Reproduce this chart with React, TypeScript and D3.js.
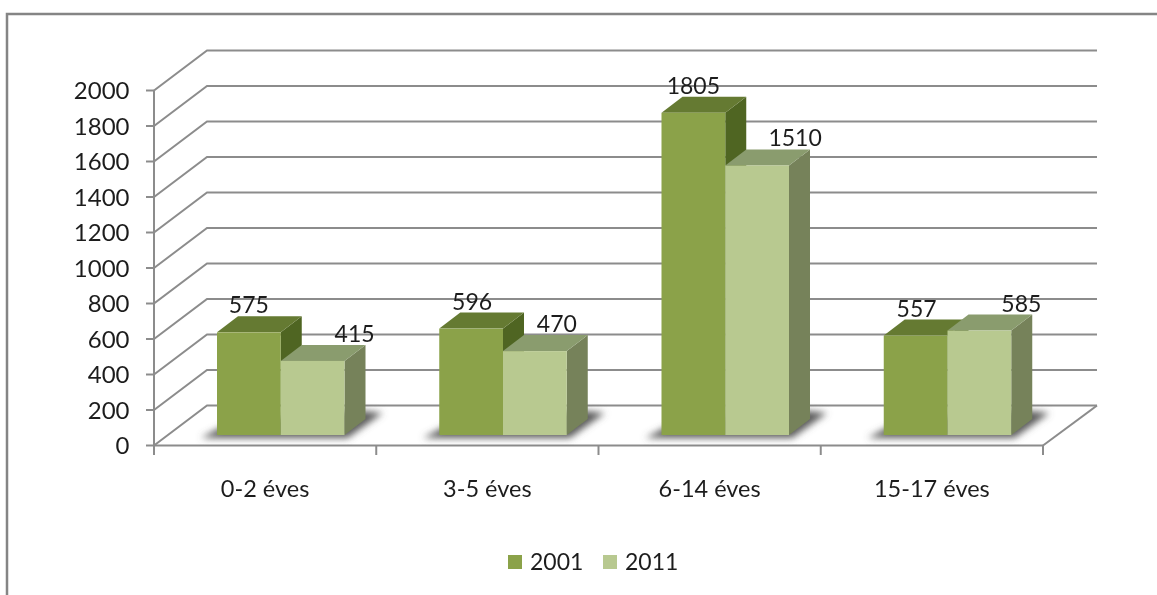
import React from 'react';
import * as d3 from 'd3';

const categories = ['0-2 éves', '3-5 éves', '6-14 éves', '15-17 éves'];
const seriesNames = ['2001', '2011'];
const values2001 = [575, 596, 1805, 557];
const values2011 = [415, 470, 1510, 585];
const yTicks = [0, 200, 400, 600, 800, 1000, 1200, 1400, 1600, 1800, 2000];

// the labels do not sit centred on the bars in the original
const labelShift2001 = [0, 1, 0, 1];
const labelShift2011 = [42, 22, 38, 42];

const frontColors = ['#8ba249', '#b8c990'];
const topColors = ['#657a32', '#8a9c6e'];
const sideColors = ['#4f6524', '#76825a'];
const gridColor = '#8c8c8c';
const textColor = '#1e1e1e';
const font = 'Lato, "Noto Sans", sans-serif';

const App = () => {
	const x = d3.scaleBand<string>().domain(categories).range([154, 1043]);
	const y = d3.scaleLinear().domain([0, 2000]).range([445.5, 90.5]);
	// bars stand further back on the floor than the axis
	const yBar = d3.scaleLinear().domain([0, 2000]).range([435, 78]);
	const inner = d3
		.scaleBand<string>()
		.domain(seriesNames)
		.range([63, 190.5]);

	// depth of the chart floor and of one bar
	const floorDx = 53;
	const floorDy = -40;
	const barDx = 21;
	const barDy = -16;

	const all = [values2001, values2011];
	const shifts = [labelShift2001, labelShift2011];
	const poly = (p: number[][]) => p.map((d) => d.join(',')).join(' ');

	return (
		<svg
			width={1157}
			height={595}
			style={{ position: 'absolute', left: 0, top: 0, background: '#fff' }}
		>
			<defs>
				<filter id="blur" x="-30%" y="-150%" width="160%" height="400%">
					<feGaussianBlur stdDeviation="3.5" />
				</filter>
				<filter id="soft" x="-5%" y="-5%" width="110%" height="110%">
					<feGaussianBlur stdDeviation="0.5" />
				</filter>
			</defs>

			<path d="M7,595V14H1157" fill="none" stroke="#858585" strokeWidth={2.5} />

			<g filter="url(#soft)">
				{/* gridlines on the side and back walls */}
				{yTicks.map((t) => (
					<path
						key={t}
						d={`M154,${y(t)}L${154 + floorDx},${y(t) + floorDy}H1097`}
						fill="none"
						stroke={gridColor}
						strokeWidth={2}
					/>
				))}
				<path
					d={`M1043,${y(0)}L1097,${y(0) + floorDy}`}
					fill="none"
					stroke={gridColor}
					strokeWidth={2}
				/>
				<path d={`M154,${y(2000)}V${y(0)}H1043`} fill="none" stroke={gridColor} strokeWidth={2} />
				{yTicks.map((t) => (
					<line key={t} x1={146} x2={154} y1={y(t)} y2={y(t)} stroke={gridColor} strokeWidth={2} />
				))}
				{categories.concat('').map((c, i) => (
					<line
						key={i}
						x1={154 + i * x.bandwidth()}
						x2={154 + i * x.bandwidth()}
						y1={445}
						y2={455}
						stroke={gridColor}
						strokeWidth={2}
					/>
				))}

				{/* floor shadows */}
				{categories.map((c) => {
					const left = (x(c) as number) + inner('2001')!;
					const right = (x(c) as number) + inner('2011')! + inner.bandwidth();
					return (
						<polygon
							key={c}
							points={poly([
								[left - 16, 438],
								[right + 3, 438],
								[right + 38, 413],
								[right + 10, 410],
								[left + 14, 422],
							])}
							fill="#5c5c5c"
							filter="url(#blur)"
						/>
					);
				})}

				{/* bars */}
				{categories.map((c, i) =>
					seriesNames.map((s, k) => {
						const x0 = (x(c) as number) + inner(s)!;
						const x1 = x0 + inner.bandwidth();
						const yt = yBar(all[k][i]);
						const base = yBar(0);
						return (
							<g key={s}>
								<polygon
									points={poly([
										[x1, yt],
										[x1 + barDx, yt + barDy],
										[x1 + barDx, base + barDy],
										[x1, base],
									])}
									fill={sideColors[k]}
								/>
								<polygon
									points={poly([
										[x0, yt],
										[x0 + barDx, yt + barDy],
										[x1 + barDx, yt + barDy],
										[x1, yt],
									])}
									fill={topColors[k]}
								/>
								<rect x={x0} y={yt} width={x1 - x0} height={base - yt} fill={frontColors[k]} />
							</g>
						);
					})
				)}

				{/* value labels */}
				{categories.map((c, i) =>
					seriesNames.map((s, k) => (
						<text
							key={s}
							x={(x(c) as number) + inner(s)! + inner.bandwidth() / 2 + shifts[k][i]}
							y={yBar(all[k][i]) - 19}
							textAnchor="middle"
							fontFamily={font}
							fontSize={23}
							fill={textColor}
						>
							{all[k][i]}
						</text>
					))
				)}

				{yTicks.map((t) => (
					<text
						key={t}
						x={129.5}
						y={y(t) + 8.5}
						textAnchor="end"
						fontFamily={font}
						fontSize={24}
						fill={textColor}
					>
						{t}
					</text>
				))}

				{categories.map((c) => (
					<text
						key={c}
						x={(x(c) as number) + x.bandwidth() / 2}
						y={497}
						textAnchor="middle"
						fontFamily={font}
						fontSize={23.5}
						fill={textColor}
					>
						{c}
					</text>
				))}

				{/* legend */}
				{seriesNames.map((s, k) => (
					<g key={s} transform={`translate(${508 + k * 95},0)`}>
						<rect x={0} y={555} width={14} height={14} fill={frontColors[k]} />
						<text x={22} y={570} fontFamily={font} fontSize={23} fill={textColor}>
							{s}
						</text>
					</g>
				))}
			</g>
		</svg>
	);
};

export default App;
